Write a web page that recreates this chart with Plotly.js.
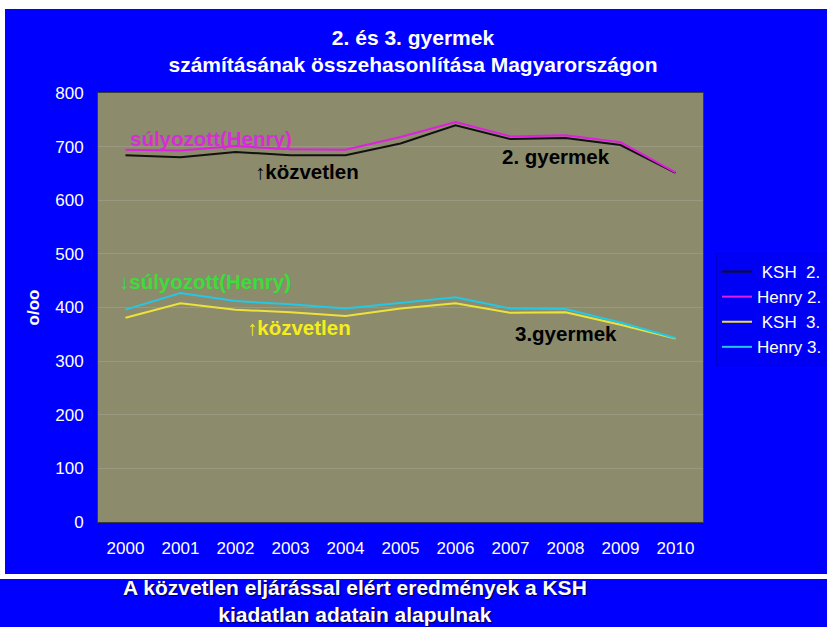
<!DOCTYPE html>
<html>
<head>
<meta charset="utf-8">
<script src="https://cdn.plot.ly/plotly-3.0.1.min.js"></script>
<style>
  html, body { margin: 0; padding: 0; background: #ffffff; }
  #chart { width: 827px; height: 627px; }
</style>
</head>
<body>
<div id="chart"></div>
<script>
// ---- data ----
var years = [2000, 2001, 2002, 2003, 2004, 2005, 2006, 2007, 2008, 2009, 2010];
var ksh2   = [684, 680, 690, 684, 684, 706, 740, 714, 716, 703, 651];
var henry2 = [694, 693, 701, 695, 694, 718, 746, 719, 721, 708, 652];
var ksh3   = [381, 408, 396, 391, 384, 398, 408, 390, 391, 368, 342];
var henry3 = [396, 427, 412, 406, 398, 408, 419, 398, 397, 372, 343];
var seriesNames = ['\u00a0KSH\u00a0 2.', 'Henry 2.', '\u00a0KSH\u00a0 3.', 'Henry 3.'];
var yTicks = [0, 100, 200, 300, 400, 500, 600, 700, 800];

var titleText = '<b>2. és 3. gyermek<br>számításának összehasonlítása Magyarországon</b>';
var yTitle = '<b>o/oo</b>';
var footText = '<b>A közvetlen eljárással elért eredmények a KSH<br>kiadatlan adatain alapulnak</b>';
var labelTexts = ['súlyozott(Henry)', '↑közvetlen', '2. gyermek', '↓súlyozott(Henry)', '↑közvetlen', '3.gyermek'];
var labelX = [2000.04, 2002.32, 2006.8, 1999.85, 2002.17, 2007.05];
var labelY = [716, 654, 681, 448, 362, 351];
var labelColors = ['#d62ed6', '#000000', '#000000', '#3cdc3c', '#f4ee1a', '#000000'];

var lineColors = ['#111111', '#e020e0', '#ece23a', '#22c8e6'];
var allSeries = [ksh2, henry2, ksh3, henry3];

var traces = allSeries.map(function (s, i) {
  return {
    x: years, y: s, type: 'scatter', mode: 'lines', name: seriesNames[i],
    line: { color: lineColors[i], width: 2 }, hoverinfo: 'skip'
  };
});

var FONT = 'Arial, "Liberation Sans", sans-serif';

var annotations = labelTexts.map(function (t, i) {
  return {
    text: '<b>' + t + '</b>', x: labelX[i], y: labelY[i], xref: 'x', yref: 'y',
    xanchor: 'left', yanchor: 'middle', showarrow: false,
    font: { family: FONT, size: 20.5, color: labelColors[i] }
  };
});
annotations.push({
  text: footText, xref: 'paper', yref: 'paper', x: (355 - 98) / 605, y: (522 - 601) / 429,
  xanchor: 'center', yanchor: 'middle', showarrow: false,
  font: { family: FONT, size: 21, color: '#ffffff', shadow: '1px 1px 1px #000040' }
});

var layout = {
  width: 827, height: 627,
  margin: { l: 98, r: 124, t: 93, b: 105, pad: 0 },
  paper_bgcolor: '#ffffff',
  plot_bgcolor: 'rgba(0,0,0,0)',
  showlegend: true,
  hovermode: false,
  title: {
    text: titleText, xref: 'container', yref: 'container',
    x: 413 / 827, xanchor: 'center', y: 1 - 44.5 / 627, yanchor: 'middle',
    font: { family: FONT, size: 21, color: '#ffffff' }
  },
  xaxis: {
    range: [1999.5, 2010.5], tickvals: years, ticktext: years.map(String),
    showgrid: false, zeroline: false, showline: true, mirror: true,
    linecolor: '#3a3a3a', linewidth: 1, ticks: '', ticklabelstandoff: 11,
    tickfont: { family: FONT, size: 17, color: '#ffffff' }
  },
  yaxis: {
    range: [0, 800], tickvals: yTicks, showgrid: true, gridcolor: '#999880', gridwidth: 1,
    zeroline: false, showline: true, mirror: true, linecolor: '#3a3a3a', linewidth: 1,
    ticks: '', ticklabelstandoff: 10,
    tickfont: { family: FONT, size: 17, color: '#ffffff' },
    title: { text: yTitle, standoff: 11, font: { family: FONT, size: 17, color: '#ffffff' } }
  },
  legend: {
    xref: 'container', yref: 'container',
    x: 716 / 827, xanchor: 'left', y: 1 - 253 / 627, yanchor: 'top',
    bgcolor: '#0000f4', bordercolor: '#0000c8', borderwidth: 1,
    font: { family: FONT, size: 17, color: '#ffffff' }, tracegroupgap: 0
  },
  shapes: [
    { type: 'rect', xref: 'paper', yref: 'paper', layer: 'below',
      x0: (5 - 98) / 605, x1: (830 - 98) / 605, y0: (522 - 574) / 429, y1: (522 - 9) / 429,
      fillcolor: '#0000fe', line: { width: 0 } },
    { type: 'rect', xref: 'paper', yref: 'paper', layer: 'below',
      x0: (-5 - 98) / 605, x1: (830 - 98) / 605, y0: (522 - 632) / 429, y1: (522 - 579) / 429,
      fillcolor: '#0000fe', line: { width: 0 } },
    { type: 'rect', xref: 'paper', yref: 'paper', layer: 'below',
      x0: 0, x1: 1, y0: 0, y1: 1,
      fillcolor: '#8c8b6c', line: { width: 0 } }
  ],
  annotations: annotations
};

Plotly.newPlot('chart', traces, layout, { displayModeBar: false, staticPlot: true });
</script>
</body>
</html>
